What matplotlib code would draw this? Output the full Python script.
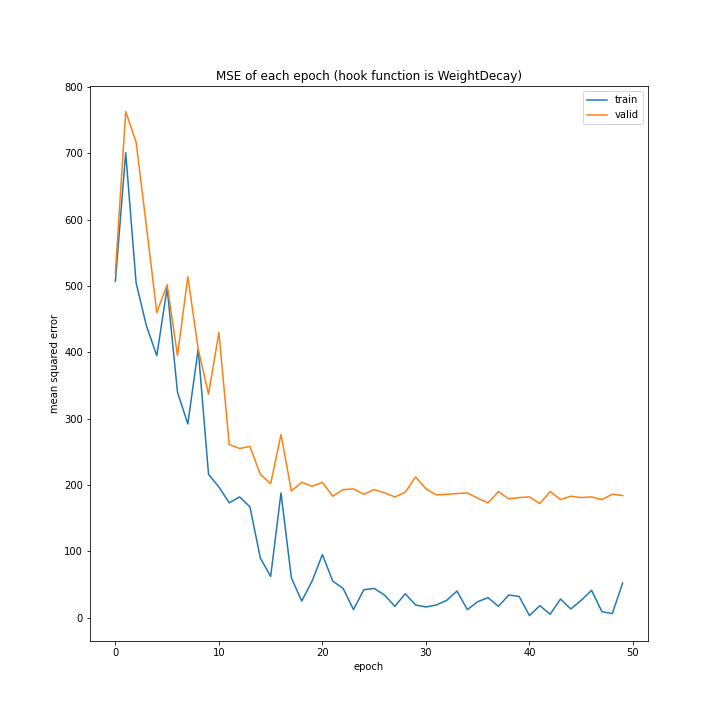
import matplotlib
matplotlib.use("Agg")
import matplotlib.pyplot as plt

epochs = list(range(50))
train = [507,701,505,440,395,497,340,292,405,216,197,173,182,167,90,62,188,60,25,55,
         95,55,44,12,42,44,34,17,36,19,16,19,26,40,12,24,30,17,34,32,
         3,18,5,28,13,26,41,9,6,52]
valid = [520,763,717,590,460,502,395,514,405,337,430,261,255,258,216,202,276,191,204,198,
         204,183,193,194,186,193,188,182,189,212,194,185,186,187,188,180,173,190,179,181,
         182,172,190,178,183,181,182,178,186,184]

fig, ax = plt.subplots(figsize=(10, 10), dpi=72)
ax.plot(epochs, train, label="train")
ax.plot(epochs, valid, label="valid")
ax.set_title("MSE of each epoch (hook function is WeightDecay)")
ax.set_xlabel("epoch")
ax.set_ylabel("mean squared error")
ax.legend()
fig.savefig("out.png")
